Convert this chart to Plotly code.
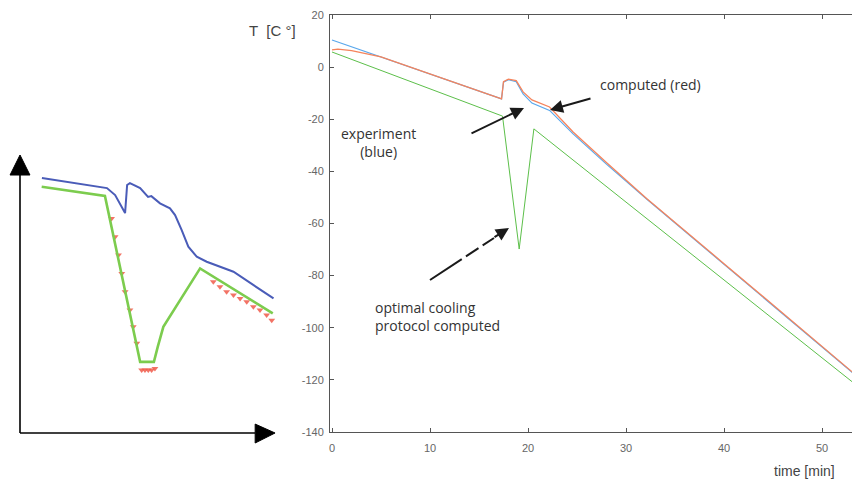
import plotly.graph_objects as go

# ---------------- main chart data ----------------
x_ticks = [0, 10, 20, 30, 40, 50]
x_tick_labels = ["0", "10", "20", "30", "40", "50"]
y_ticks = [20, 0, -20, -40, -60, -80, -100, -120, -140]
y_tick_labels = ["20", "0", "-20", "-40", "-60", "-80", "-100", "-120", "-140"]

time_green = [0, 17.4, 19.1, 20.6, 53.1]
temp_green = [5.8, -18.8, -69.8, -23.7, -120.8]

time_blue = [0, 17.3, 17.5, 18.0, 18.8, 19.5, 20.4, 22.2, 24.6, 28.0, 32.1, 40.0, 53.1]
temp_blue = [10.4, -12.2, -5.8, -4.8, -5.6, -10.3, -13.8, -16.6, -25.6, -37.2, -50.6, -75.6, -117.2]

time_red = [0, 0.6, 2.0, 3.5, 5.0, 17.3, 17.5, 18.0, 18.8, 19.5, 20.4, 22.2, 24.6, 28.0, 32.1, 40.0, 53.1]
temp_red = [6.6, 6.9, 6.3, 5.2, 3.9, -12.2, -5.6, -4.6, -5.2, -9.5, -12.6, -15.3, -24.9, -36.6, -50.4, -75.4, -117.0]

# ---------------- inset (schematic) data, arbitrary units ----------------
inset_x_blue = [8.6, 34.1, 37.3, 41.2, 42.0, 43.1, 47.1, 50.2, 51.5, 54.9, 58.8, 60.8, 63.4, 66.0, 69.3, 73.2, 83.7, 99.4]
inset_blue = [91.7, 88.1, 85.6, 79.1, 89.2, 89.9, 88.1, 84.9, 85.2, 82.6, 80.8, 78.4, 73.0, 67.0, 63.4, 61.6, 58.0, 48.4]

inset_x_green = [8.5, 33.3, 47.1, 52.5, 54.0, 56.2, 70.6, 99.1]
inset_green = [88.6, 85.3, 25.6, 25.6, 31.0, 38.2, 59.2, 43.0]

inset_x_red = [35.9, 37.3, 38.6, 39.9, 41.2, 43.1, 44.4, 45.8, 47.7, 49.0, 50.3, 51.6, 52.9,
               75.8, 78.4, 81.0, 83.7, 86.3, 88.9, 91.5, 94.1, 96.7, 98.7]
inset_red = [77.2, 70.6, 64.0, 57.4, 50.8, 44.2, 38.2, 32.3, 22.7, 22.7, 22.7, 22.7, 23.2,
             54.4, 52.6, 50.8, 49.6, 48.4, 47.2, 45.4, 44.2, 42.4, 40.6]

W, H = 852, 480
fig = go.Figure()

fig.add_trace(go.Scatter(x=time_green, y=temp_green, mode="lines",
                         line=dict(color="#5cbf4a", width=1), xaxis="x", yaxis="y"))
fig.add_trace(go.Scatter(x=time_blue, y=temp_blue, mode="lines",
                         line=dict(color="#5aa8ec", width=1.2), xaxis="x", yaxis="y"))
fig.add_trace(go.Scatter(x=time_red, y=temp_red, mode="lines",
                         line=dict(color="#f5845c", width=1.3), xaxis="x", yaxis="y"))

fig.add_trace(go.Scatter(x=inset_x_red, y=inset_red, mode="markers",
                         marker=dict(symbol="triangle-down", size=6, color="#f05a4a", opacity=0.85),
                         xaxis="x2", yaxis="y2"))
fig.add_trace(go.Scatter(x=inset_x_green, y=inset_green, mode="lines",
                         line=dict(color="#7ccc4e", width=2.6), xaxis="x2", yaxis="y2"))
fig.add_trace(go.Scatter(x=inset_x_blue, y=inset_blue, mode="lines",
                         line=dict(color="#4a5cb8", width=2), xaxis="x2", yaxis="y2"))

x_lo, x_hi = -0.204, 53.06
y_lo, y_hi = -140, 20

tickfont = dict(family="Liberation Sans, Arial, sans-serif", size=11, color="#666")
axcol = "#555"

ix_lo, ix_hi = -5.88, 103.9
iy_lo, iy_hi = -5.04, 101.8

fig.update_layout(
    width=W, height=H,
    margin=dict(l=0, r=0, t=0, b=0, pad=0),
    paper_bgcolor="white", plot_bgcolor="white",
    showlegend=False,
    xaxis=dict(domain=[330 / W, 1.0], range=[x_lo, x_hi], tickvals=x_ticks, ticktext=x_tick_labels,
               showline=True, linecolor=axcol, linewidth=1, mirror="ticks", automargin=False,
               ticks="inside", ticklen=4, tickcolor=axcol, showgrid=False, zeroline=False,
               tickfont=tickfont, ticklabelstandoff=6, anchor="y"),
    yaxis=dict(domain=[48 / H, 465 / H], range=[y_lo, y_hi], tickvals=y_ticks, ticktext=y_tick_labels,
               showline=True, linecolor=axcol, linewidth=1, mirror=False, automargin=False,
               ticks="inside", ticklen=4, tickcolor=axcol, showgrid=False, zeroline=False,
               tickfont=tickfont, ticklabelstandoff=3, anchor="x"),
    xaxis2=dict(domain=[5 / W, 285 / W], range=[ix_lo, ix_hi], visible=False, anchor="y2", automargin=False),
    yaxis2=dict(domain=[33 / H, 330 / H], range=[iy_lo, iy_hi], visible=False, anchor="x2", automargin=False),
)

fig.add_shape(type="line", xref="x2", yref="y2", x0=0, y0=0, x1=0, y1=93.5,
              line=dict(color="black", width=1.6))
fig.add_shape(type="line", xref="x2", yref="y2", x0=0, y0=0, x1=92.2, y1=0,
              line=dict(color="black", width=1.6))
fig.add_shape(type="path", xref="x2", yref="y2",
              path="M -3.9,92.8 L 0,100 L 3.9,92.8 Z", fillcolor="black", line=dict(color="black", width=1))
fig.add_shape(type="path", xref="x2", yref="y2",
              path="M 92.2,-3.6 L 100,0 L 92.2,3.2 Z", fillcolor="black", line=dict(color="black", width=1))

txtfont = dict(family="Open Sans, Lato, sans-serif", size=14, color="#333")

def px2data(px, py):
    return (px - 332) / 9.8, 20 - (py - 15) / 2.606

fig.add_annotation(text="T  [C °]", xref="paper", yref="paper", x=247 / W, y=1 - 30 / H,
                   xanchor="left", yanchor="middle", showarrow=False,
                   font=dict(family="Liberation Sans, Arial, sans-serif", size=15, color="#444"))
fig.add_annotation(text="time [min]", xref="paper", yref="paper", x=837 / W, y=1 - 471 / H,
                   xanchor="right", yanchor="middle", showarrow=False,
                   font=dict(family="Liberation Sans, Arial, sans-serif", size=14, color="#444"))
fig.add_annotation(text="computed (red)", xref="paper", yref="paper", x=598 / W, y=1 - 84 / H,
                   xanchor="left", yanchor="middle", showarrow=False, font=txtfont)
fig.add_annotation(text="experiment<br>(blue)", xref="paper", yref="paper", x=378 / W, y=1 - 143 / H,
                   xanchor="center", yanchor="middle", showarrow=False, font=txtfont, align="center")
fig.add_annotation(text="optimal cooling<br>protocol computed", xref="paper", yref="paper",
                   x=373 / W, y=1 - 316 / H, xanchor="left", yanchor="middle", showarrow=False,
                   font=txtfont, align="left")

hx, hy = px2data(524, 108)
fig.add_annotation(x=hx, y=hy, xref="x", yref="y", ax=-54, ay=26, text="", showarrow=True,
                   arrowhead=2, arrowsize=1.3, arrowwidth=2, arrowcolor="#1a1a1a")
hx, hy = px2data(550, 110)
fig.add_annotation(x=hx, y=hy, xref="x", yref="y", ax=42, ay=-12, text="", showarrow=True,
                   arrowhead=2, arrowsize=1.3, arrowwidth=2, arrowcolor="#1a1a1a")
tx, ty = px2data(430, 280)
ex, ey = px2data(494, 238)
fig.add_shape(type="line", xref="x", yref="y", x0=tx, y0=ty, x1=ex, y1=ey,
              line=dict(color="#1a1a1a", width=2, dash="38px,5px,15px,5px"))
hx, hy = px2data(509, 228)
fig.add_annotation(x=hx, y=hy, xref="x", yref="y", ax=-16, ay=10, text="", showarrow=True,
                   arrowhead=2, arrowsize=1.3, arrowwidth=2, arrowcolor="#1a1a1a")

fig.write_html("out.html", config={"displayModeBar": False},
               post_script="document.body.style.margin='0px';document.body.style.overflow='hidden';")
